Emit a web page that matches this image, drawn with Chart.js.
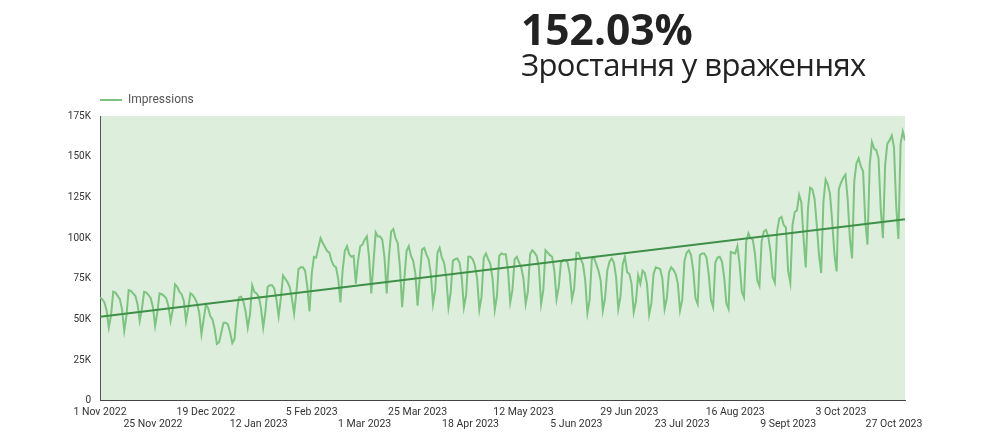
<!DOCTYPE html>
<html>
<head>
<meta charset="utf-8">
<script src="https://cdn.jsdelivr.net/npm/chart.js@4.4.1/dist/chart.umd.min.js"></script>
<style>
  html, body { margin: 0; padding: 0; background: #fff; }
  #wrap { position: relative; width: 1000px; height: 437px; overflow: hidden; }
  #chartBox { position: absolute; left: 0; top: 0; width: 1000px; height: 437px; }
  .big { position: absolute; left: 521px; top: 8px; font: 700 42.5px/1 "Open Sans", sans-serif; color: #222; }
  .sub { position: absolute; left: 521px; top: 49px; font: 400 31px/1 "Open Sans", sans-serif; letter-spacing: -0.6px; color: #222; }
</style>
</head>
<body>
<div id="wrap">
  <div id="chartBox"><canvas id="growthChart"></canvas></div>
  <div class="big">152.03%</div>
  <div class="sub">Зростання у враженнях</div>
</div>
<script>
// ---------- Data (thousands of impressions, daily, 1 Nov 2022 .. 1 Nov 2023) ----------
const impressions = [
  63.5, 62.5, 60.5, 55.5, 45, 52.5,               // 1-6 Nov
  67, 66.5, 64.5, 62.5, 56, 43, 52.5,
  68, 67.5, 66, 64.5, 59.5, 49, 56.5,
  67, 66.5, 65, 63, 57.5, 46, 54.5,
  66, 65.5, 64.5, 63, 58.5, 49, 56,
  71.5, 70, 67, 65.5, 61.5, 49, 57,
  66, 65, 63, 60, 54, 41, 50,
  59, 57, 52, 50, 44, 35, 36,                     // christmas week
  42, 48, 48, 47, 42, 35.5, 38,
  54, 63.5, 64, 61, 55, 45, 53,
  71, 67, 66, 64, 57, 45, 55,
  70, 71, 71, 69, 62, 52, 63,
  77, 75, 73, 70, 63, 53.5, 66,
  81, 82, 82, 80, 70, 55, 78,
  88.5, 88, 94, 100, 97, 94.5, 92,
  91, 86, 83, 82, 75, 60.5, 80,
  92, 95, 90, 88.5, 89, 72, 86,
  95, 96, 99, 101, 88, 66, 85,
  103.5, 101, 101, 99, 88, 66, 88,
  104, 105.5, 100, 97, 82, 57.5, 75,
  92, 95, 89, 86, 78, 58.5, 76,
  93, 94, 90, 87, 78, 59.5, 68,
  91, 94, 88, 85, 76, 57.5, 66.5,
  86, 87, 87.5, 85, 76, 57.5, 65,
  88.5, 88.5, 87, 83, 75, 56, 64,
  88, 90.5, 87, 84, 75, 56, 64.5,
  89, 90.5, 90, 90, 80, 60.5, 68,
  87, 88.5, 85, 82, 75, 59.5, 67,
  90, 92.5, 91, 89, 82, 59.5, 68,
  92.5, 91, 89.5, 88.5, 80, 62.5, 70,
  85, 86.5, 86.5, 85, 78, 62.5, 69,
  91, 91, 87, 84, 74, 54, 62,
  87, 88, 84, 80, 74, 55.5, 63,
  80, 85.5, 87.5, 85, 76, 56.5, 64,
  84, 88.5, 79, 78, 72, 54.5, 61,
  77, 72, 80, 78.5, 72, 53, 60,
  78, 82, 81.5, 81, 75, 56.5, 63,
  79, 82, 80.5, 78, 72, 55.5, 62,
  86, 91, 92.5, 89.5, 80, 63, 59.5,
  89.5, 90.5, 90.5, 88, 78, 62, 57.5,
  85, 88, 88.5, 85.5, 76, 60, 56.5,
  91.5, 91, 90.5, 95, 84, 67, 63.5,
  98, 103, 100, 99, 90, 74, 70.5,
  98, 104, 105, 101, 92, 76, 72.5,
  104, 112, 113, 108, 106.5, 80, 72.5,
  108, 116, 117, 126.5, 122, 100, 82,
  118, 131, 130, 124, 108, 90, 78.5,
  122, 136, 133, 127, 110, 90, 79.5,
  130, 134, 137, 139, 124, 100, 87.5,
  135, 146, 149, 144, 141, 110, 96,
  145, 159, 155, 154, 149, 118, 100,
  145, 158, 160, 163, 156, 120, 99.5,
  158, 165.5, 160                                  // 30 Oct - 1 Nov
];

// trend line: value at first and last day
const trendDays   = [0, 365];
const trendValues = [51.7, 111.5];

// x tick labels, one every 24 days
const tickLabels = [
  '1 Nov 2022', '25 Nov 2022', '19 Dec 2022', '12 Jan 2023', '5 Feb 2023',
  '1 Mar 2023', '25 Mar 2023', '18 Apr 2023', '12 May 2023', '5 Jun 2023',
  '29 Jun 2023', '23 Jul 2023', '16 Aug 2023', '9 Sept 2023', '3 Oct 2023',
  '27 Oct 2023'
];
const tickStep = 24;
const yTicks = [0, 25, 50, 75, 100, 125, 150, 175];

const legendPad = 12;

// ---------- Plugins ----------
// light green fill behind the plot area
const plotBg = {
  id: 'plotBg',
  beforeDraw(chart) {
    const { ctx, chartArea: a } = chart;
    ctx.save();
    ctx.fillStyle = '#ddeedd';
    ctx.fillRect(a.left, a.top, a.right - a.left, a.bottom - a.top);
    ctx.restore();
  }
};

// start the legend at the plot's left edge instead of the canvas edge
const legendShift = {
  id: 'legendShift',
  afterLayout(chart) {
    const lg = chart.legend;
    if (!lg) return;
    const dx = chart.chartArea.left - legendPad - lg.left;
    lg.left += dx;
    lg.right += dx;
  }
};

// ---------- Chart ----------
const ctx = document.getElementById('growthChart').getContext('2d');
new Chart(ctx, {
  type: 'line',
  data: {
    datasets: [
      {
        label: 'Impressions',
        data: impressions.map((v, i) => ({ x: i, y: v })),
        borderColor: '#7cc47f',
        borderWidth: 2,
        pointRadius: 0,
        tension: 0,
        order: 2
      },
      {
        label: 'Trend',
        data: trendDays.map((d, i) => ({ x: d, y: trendValues[i] })),
        borderColor: '#3f8f49',
        borderWidth: 2,
        pointRadius: 0,
        order: 1
      }
    ]
  },
  options: {
    responsive: true,
    maintainAspectRatio: false,
    animation: false,
    layout: { padding: { left: 40, right: 95, top: 82, bottom: 1 } },
    plugins: {
      tooltip: { enabled: false },
      legend: {
        position: 'top',
        align: 'start',
        labels: {
          filter: item => item.datasetIndex === 0,
          usePointStyle: true,
          pointStyle: 'line',
          pointStyleWidth: 22,
          padding: legendPad,
          color: '#555',
          font: { family: 'Roboto', size: 12 }
        }
      }
    },
    scales: {
      x: {
        type: 'linear',
        min: 0,
        max: impressions.length - 1,
        grid: { display: false, drawTicks: false },
        border: { display: true, color: '#444', width: 1 },
        afterBuildTicks: s => { s.ticks = tickLabels.map((_, i) => ({ value: i * tickStep })); },
        ticks: {
          autoSkip: false,
          includeBounds: false,
          maxRotation: 0,
          minRotation: 0,
          padding: 5,
          color: '#333',
          font: { family: 'Roboto', size: 10.5 },
          callback: v => {
            const i = Math.round(v / tickStep);
            const l = tickLabels[i];
            if (l === undefined) return null;
            return i % 2 ? ['', l] : l;
          }
        }
      },
      y: {
        min: 0,
        max: yTicks[yTicks.length - 1],
        grid: { display: false, drawTicks: false },
        border: { display: true, color: '#555', width: 1 },
        afterFit: s => { s.width = 60; },
        afterBuildTicks: s => { s.ticks = yTicks.map(v => ({ value: v })); },
        ticks: {
          padding: 9,
          color: '#333',
          font: { family: 'Roboto', size: 10 },
          callback: v => v === 0 ? '0' : v + 'K'
        }
      }
    }
  },
  plugins: [plotBg, legendShift]
});
</script>
</body>
</html>
